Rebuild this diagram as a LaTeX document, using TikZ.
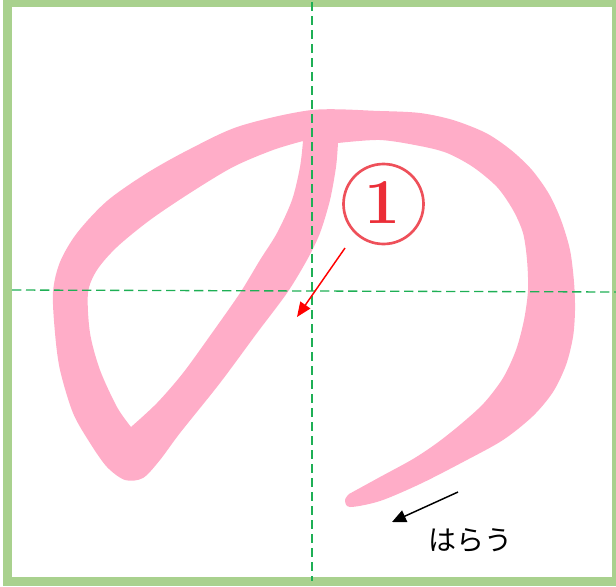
\documentclass[tikz,border=0pt]{standalone}
\usepackage{fontspec}
\newfontfamily\jpfont{Noto Sans CJK JP}
\usetikzlibrary{arrows.meta}
\definecolor{bordergreen}{HTML}{A9D18E}
\definecolor{guidegreen}{RGB}{30,175,85}
\definecolor{strokepink}{RGB}{255,173,200}
\definecolor{markred}{RGB}{235,45,55}
\definecolor{ringred}{RGB}{238,80,90}
\begin{document}
\begin{tikzpicture}[x=0.75pt,y=-0.75pt,
  guide/.style={draw=guidegreen, line width=1pt, dash pattern=on 7pt off 3.5pt},
  redarrow/.style={draw=red, line width=1.1pt, -{Triangle[length=11pt,width=9pt]}},
  blackarrow/.style={draw=black, line width=1.1pt, -{Triangle[length=10.5pt,width=9.4pt]}}]
\useasboundingbox (0,0) rectangle (616,586);
% the pink stroke
\fill[strokepink, even odd rule]
  plot[smooth] coordinates {(349,494) (345,500) (350,507) (380,501) (420,484) (463,462) (503,440) (533,416) (553,392) (566,365) (573,337) (575,310) (574,282) (570,250) (561,220) (549,194) (532,170) (511,150) (486,133) (453,120) (420,113) (380,111) (312,110) (240,126) (190,149) (147,173) (107,201) (77,233) (60,262) (53,292) (55,333) (60,370) (73,413) (90,443) (107,467) (125,480) (143,478) (160,460) (180,433) (220,383) (257,333) (287,293) (307,260) (320,233) (330,200) (336,167) (338,143)}
  -- plot[smooth] coordinates {(338,143) (380,140) (420,146) (447,153) (473,167) (497,187) (513,210) (523,233) (527,260) (528,290) (524,320) (516,350) (503,378) (484,403) (461,424) (437,443) (413,459) (380,477) (349,494)}
  -- cycle
  plot[smooth] coordinates {(303,141) (300,167) (292,200) (277,233) (260,260) (240,293) (212,333) (183,373) (157,403) (131,427)}
  -- plot[smooth] coordinates {(131,427) (117,407) (100,370) (90,333) (88,293) (97,270) (117,247) (150,220) (190,193) (233,167) (273,150) (303,141)}
  -- cycle;
% border
\draw[bordergreen, line width=6.3pt] (7.5,3) rectangle (616,581.5);
% guide lines
\coordinate (vt) at (312,2);
\coordinate (vb) at (312,581);
\coordinate (hl) at (12,290);
\coordinate (hr) at (616,292);
\draw[guide] (vt) -- (vb);
\draw[guide] (hl) -- (hr);
% circled number
\node[circle, draw=ringred, line width=2pt, minimum size=60pt, inner sep=0pt] (ring) at (383.5,204) {};
\node[text=markred, font=\bfseries\fontsize{48}{48}\selectfont, inner sep=0pt] (one) at (383,202.5) {1};
% red arrow
\coordinate (ra) at (345,248);
\coordinate (rb) at (297,317);
\draw[redarrow] (ra) -- (rb);
% black arrow and label
\coordinate (ba) at (458,492);
\coordinate (bb) at (392,522);
\draw[blackarrow] (ba) -- (bb);
\node[font=\jpfont\fontsize{21}{21}\selectfont, inner sep=0pt] (harau) at (470,540) {はらう};
\end{tikzpicture}
\end{document}
